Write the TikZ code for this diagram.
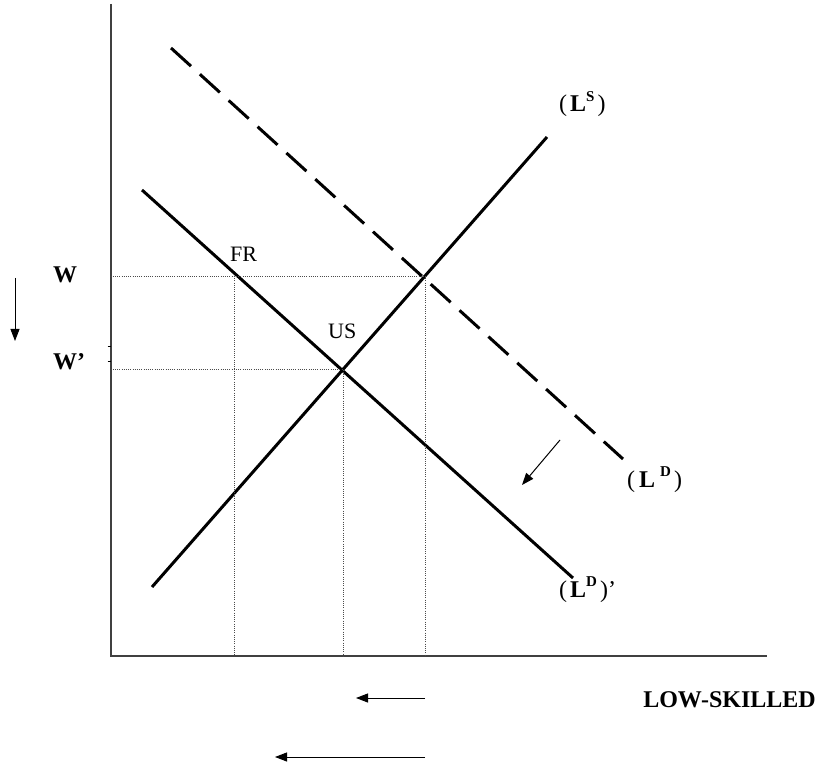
\documentclass[tikz,border=0pt]{standalone}
\usepackage{fontspec}
\setmainfont{Liberation Serif}
\usetikzlibrary{arrows.meta}
\newcommand{\mysup}[1]{\raisebox{0.42em}{\fontsize{15}{15}\selectfont\bfseries #1}}
\begin{document}
\begin{tikzpicture}[x=1pt,y=-1pt,
  curve/.style={line width=3pt,line cap=butt},
  dcurve/.style={curve,dash pattern=on 27pt off 12pt},
  guide/.style={line width=0.7pt,black!70,dash pattern=on 1pt off 1.2pt},
  axis/.style={line width=2pt,black!75},
  shiftarrow/.style={-{Triangle[length=12pt,width=9pt]},line width=1pt},
  big/.style={inner sep=0pt,font=\fontsize{24}{28}\selectfont\bfseries},
  mid/.style={inner sep=0pt,font=\fontsize{24}{28}\selectfont},
  plain/.style={inner sep=0pt,font=\fontsize{22}{26}\selectfont}]
\useasboundingbox (0,0) rectangle (817,767);
% axes
\coordinate (O) at (110.5,656);
\coordinate (ytop) at (110.5,4);
\coordinate (xend) at (767,656);
\draw[axis] (ytop) -- (O) -- (xend);
% curves
\coordinate (s1) at (152,587);
\coordinate (s2) at (547,137);
\coordinate (d1) at (142,190);
\coordinate (d2) at (573,578);
\coordinate (e1) at (171,48);
\coordinate (e2) at (623,459);
\draw[curve] (s1) -- (s2);
\draw[curve] (d1) -- (d2);
\draw[dcurve] (e1) -- (e2);
% intersection points
\coordinate (A) at (425,276);
\coordinate (FR) at (234,276);
\coordinate (US) at (343,369);
\coordinate (wy) at (110.5,276);
\coordinate (wpy) at (110.5,369);
\coordinate (fx) at (234,656);
\coordinate (ux) at (343,656);
\coordinate (ax) at (425,656);
\draw[guide] (wy) -- (A) -- (ax);
\draw[guide] (FR) -- (fx);
\draw[guide] (wpy) -- (US) -- (ux);
% small ticks
\coordinate (t1a) at (107.5,346); \coordinate (t1b) at (110.5,346);
\coordinate (t2a) at (107.5,361); \coordinate (t2b) at (110.5,361);
\draw[line width=0.8pt] (t1a) -- (t1b);
\draw[line width=0.8pt] (t2a) -- (t2b);
% labels
\node[big,anchor=base west] (W) at (53,283) {W};
\node[big,anchor=base west] (Wp) at (53,370) {W’};
\node[plain,anchor=base west] (fr) at (230,262) {FR};
\node[plain,anchor=base west] (us) at (328,339) {US};
\node[mid,anchor=base west] (LS) at (559,112) {(\kern3pt\textbf{L}\mysup{S}\kern3pt)};
\node[mid,anchor=base west] (LD) at (627,487) {(\kern4pt\textbf{L}\kern5pt\mysup{D}\kern3pt)};
\node[mid,anchor=base west] (LDp) at (559,597) {(\kern3pt\textbf{L}\mysup{D}\kern3pt)’};
\node[big,anchor=base east] (LOW) at (816,707) {LOW-SKILLED};
% shift arrows
\coordinate (wa1) at (15,278); \coordinate (wa2) at (15,341);
\draw[shiftarrow] (wa1) -- (wa2);
\coordinate (da1) at (560,440); \coordinate (da2) at (522,485);
\draw[shiftarrow] (da1) -- (da2);
\coordinate (b1a) at (425,698); \coordinate (b1b) at (356,698);
\draw[shiftarrow] (b1a) -- (b1b);
\coordinate (b2a) at (425,757); \coordinate (b2b) at (275,757);
\draw[shiftarrow] (b2a) -- (b2b);
\end{tikzpicture}
\end{document}
